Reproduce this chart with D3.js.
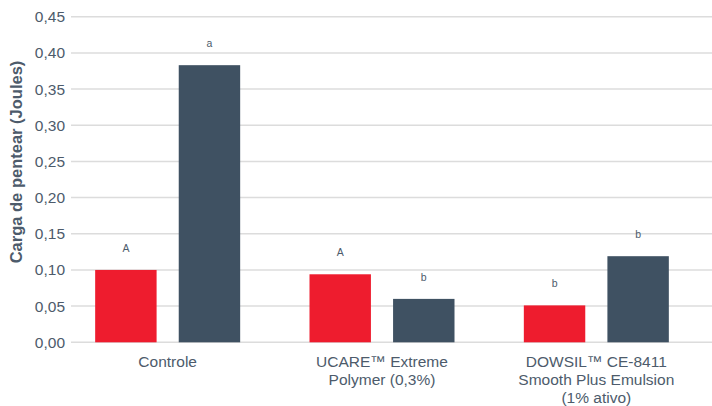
<!DOCTYPE html>
<html>
<head>
<meta charset="utf-8">
<script src="https://cdn.jsdelivr.net/npm/d3@7"></script>
<style>
  body { margin: 0; background: #fff; }
  text { font-family: "Liberation Sans", Arial, sans-serif; }
</style>
</head>
<body>
<script>
var categories = [
    ["Controle"],
    ["UCARE\u2122 Extreme", "Polymer (0,3%)"],
    ["DOWSIL\u2122 CE-8411", "Smooth Plus Emulsion", "(1% ativo)"]
];
var series = ["s1", "s2"];
var values1 = [0.100, 0.094, 0.051];
var values2 = [0.383, 0.060, 0.119];
var letters1 = ["A", "A", "b"];
var letters2 = ["a", "b", "b"];
var yTicks = [0, 0.05, 0.10, 0.15, 0.20, 0.25, 0.30, 0.35, 0.40, 0.45];

var W = 712, H = 406;
var colors = {s1: "#ee1c2e", s2: "#3f5162"};
var textColor = "#4d5b6b";

var svg = d3.select("body").append("svg")
    .attr("width", W)
    .attr("height", H);

var y = d3.scaleLinear().domain([0, 0.45]).range([342.3, 16.7]);
var x0 = d3.scaleBand().domain(d3.range(categories.length)).range([60.5, 703.5]);
var x1 = d3.scaleBand().domain(series).range([-72.5, 72.5]).paddingInner(0.265);

// grid
svg.append("g")
    .selectAll("line")
    .data(yTicks)
    .enter().append("line")
    .attr("x1", 71).attr("x2", W)
    .attr("y1", d => y(d)).attr("y2", d => y(d))
    .attr("stroke", "#dcdcdc")
    .attr("stroke-width", 1.5);

// y axis labels
var yAxis = d3.axisLeft(y).tickValues(yTicks).tickSize(0).tickPadding(0)
    .tickFormat(d => d3.format(".2f")(d).replace(".", ","));
var gy = svg.append("g").attr("transform", "translate(65,0)").call(yAxis);
gy.select(".domain").remove();
gy.selectAll("text")
    .attr("fill", textColor)
    .style("font-size", "15.5px");

svg.append("text")
    .attr("transform", "translate(22,162) rotate(-90)")
    .attr("text-anchor", "middle")
    .attr("fill", textColor)
    .style("font-size", "16.5px")
    .style("font-weight", "bold")
    .text("Carga de pentear (Joules)");

// bars
var rows = categories.map((c, i) => ({
    i: i,
    bars: [
        {key: "s1", v: values1[i], l: letters1[i]},
        {key: "s2", v: values2[i], l: letters2[i]}
    ]
}));

var groups = svg.selectAll(".grp")
    .data(rows)
    .enter().append("g")
    .attr("class", "grp")
    .attr("transform", d => "translate(" + (x0(d.i) + x0.bandwidth() / 2) + ",0)");

groups.selectAll("rect")
    .data(d => d.bars)
    .enter().append("rect")
    .attr("x", d => x1(d.key))
    .attr("width", x1.bandwidth())
    .attr("y", d => y(d.v))
    .attr("height", d => y(0) - y(d.v))
    .attr("fill", d => colors[d.key]);

groups.selectAll(".lbl")
    .data(d => d.bars)
    .enter().append("text")
    .attr("class", "lbl")
    .attr("x", d => x1(d.key) + x1.bandwidth() / 2)
    .attr("y", d => y(d.v) - 18)
    .attr("text-anchor", "middle")
    .attr("fill", textColor)
    .style("font-size", "10.5px")
    .text(d => d.l);

// category labels
groups.append("text")
    .attr("text-anchor", "middle")
    .attr("fill", textColor)
    .style("font-size", "15.5px")
    .selectAll("tspan")
    .data(d => categories[d.i])
    .enter().append("tspan")
    .attr("x", 0)
    .attr("y", (d, j) => 366.5 + j * 18.3)
    .text(d => d);
</script>
</body>
</html>
